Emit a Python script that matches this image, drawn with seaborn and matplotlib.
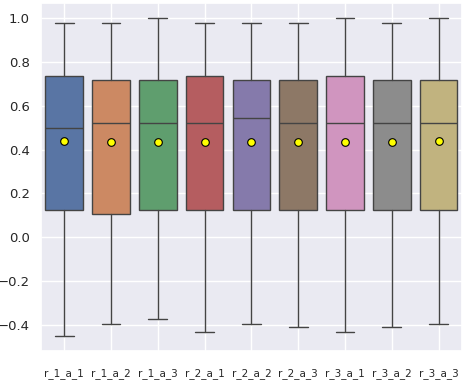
import matplotlib
matplotlib.use("Agg")
import matplotlib.pyplot as plt
import seaborn as sns

# five-number summary + mean per group
labels = ["r_1_a_1", "r_1_a_2", "r_1_a_3", "r_2_a_1", "r_2_a_2",
          "r_2_a_3", "r_3_a_1", "r_3_a_2", "r_3_a_3"]
whis_low = [-0.452, -0.397, -0.374, -0.433, -0.397, -0.41, -0.433, -0.41, -0.397]
q1 = [0.124, 0.104, 0.124, 0.124, 0.124, 0.124, 0.124, 0.124, 0.124]
median = [0.50, 0.52, 0.52, 0.52, 0.543, 0.52, 0.52, 0.52, 0.52]
q3 = [0.738, 0.717, 0.717, 0.738, 0.717, 0.717, 0.738, 0.717, 0.717]
whis_high = [0.979, 0.979, 1.0, 0.979, 0.979, 0.979, 1.0, 0.979, 1.0]
means = [0.44, 0.437, 0.437, 0.437, 0.437, 0.437, 0.437, 0.437, 0.44]


def main():
    sns.set_theme(style="darkgrid")
    plt.rcParams['font.family'] = ['DejaVu Sans']

    fig = plt.figure(figsize=(4.63, 3.82), dpi=100)
    ax = fig.add_axes([0.088, 0.081, 0.91, 0.911])

    stats = []
    for i in range(len(labels)):
        stats.append(dict(label=labels[i], whislo=whis_low[i], q1=q1[i], med=median[i],
                          q3=q3[i], whishi=whis_high[i], mean=means[i], fliers=[]))

    line = "#444444"
    bp = ax.bxp(stats, positions=range(len(labels)), widths=0.8, patch_artist=True,
                showmeans=True, showfliers=False,
                boxprops=dict(edgecolor=line, linewidth=1.0),
                medianprops=dict(color=line, linewidth=1.0),
                whiskerprops=dict(color=line, linewidth=1.0),
                capprops=dict(color=line, linewidth=1.0),
                capwidths=0.4,
                meanprops=dict(marker='o', markerfacecolor='yellow',
                               markeredgecolor='black', markersize=5.5,
                               markeredgewidth=0.8))

    colors = sns.color_palette("deep", len(labels))
    for patch, c in zip(bp['boxes'], colors):
        patch.set_facecolor(sns.desaturate(c, 0.75))

    ax.set_xlim(-0.5, len(labels) - 0.5)
    ax.set_ylim(-0.52, 1.07)
    ax.set_yticks([-0.4, -0.2, 0.0, 0.2, 0.4, 0.6, 0.8, 1.0])
    ax.set_xticks(range(len(labels)))
    ax.set_xticklabels(labels, fontsize=7.5)
    ax.tick_params(axis='y', labelsize=9.5, pad=2)
    ax.tick_params(axis='x', pad=6)

    fig.savefig("out.png", dpi=100)


if __name__ == "__main__":
    main()
